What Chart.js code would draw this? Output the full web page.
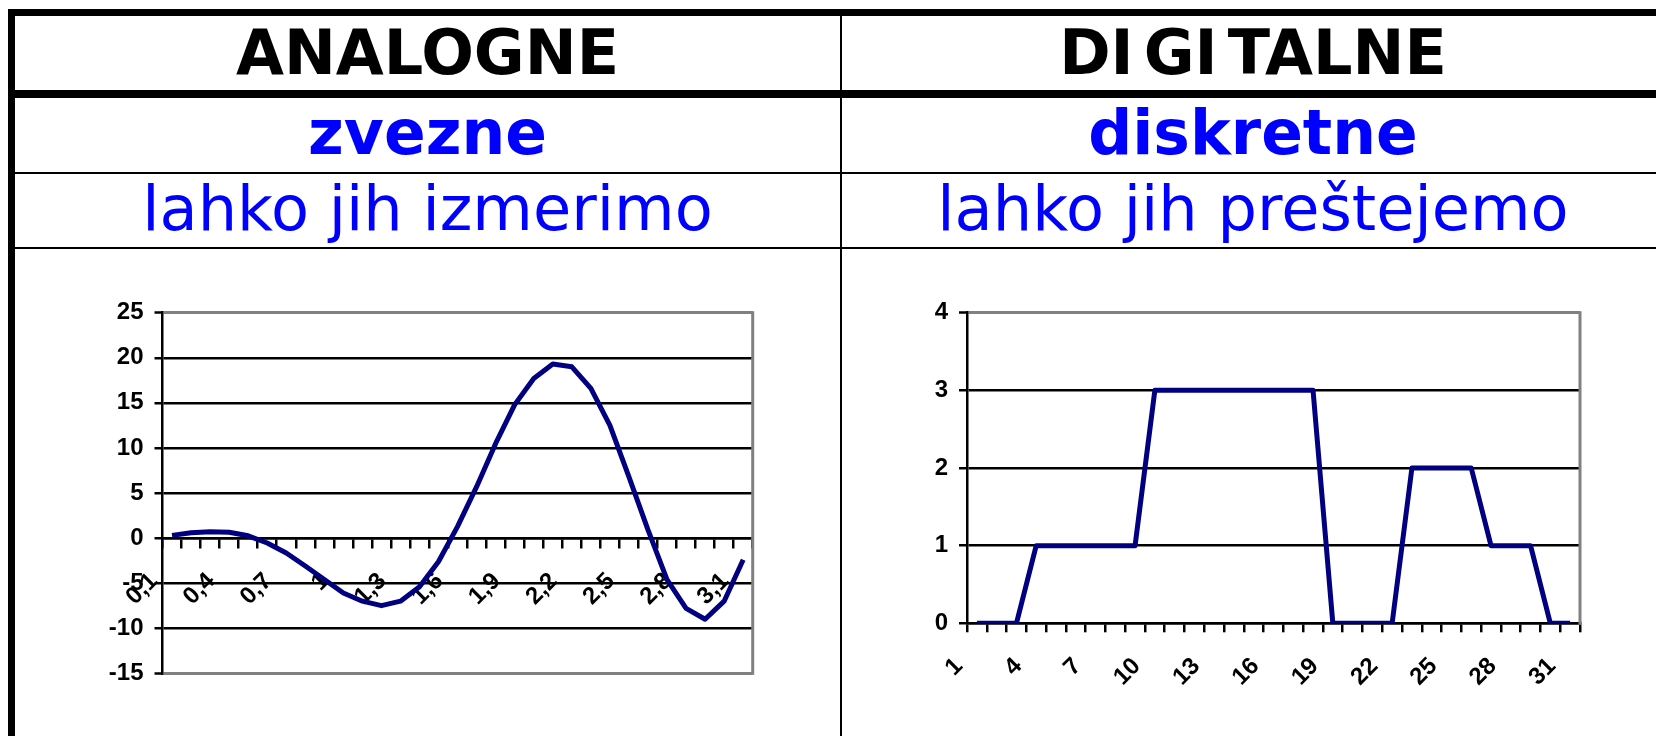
<!DOCTYPE html>
<html lang="sl">
<head>
<meta charset="utf-8">
<title>Analogne in digitalne količine</title>
<script src="https://cdn.jsdelivr.net/npm/chart.js@4.4.0/dist/chart.umd.min.js"></script>
<style>
  html, body { margin: 0; padding: 0; background: #fff; }
  body { width: 1656px; height: 736px; overflow: hidden; position: relative; font-family: "DejaVu Sans", sans-serif; }
  .crta { position: absolute; background: #000; }
  .celica { position: absolute; text-align: center; line-height: normal; white-space: nowrap; }
  .naslov { font-size: 62px; font-weight: bold; color: #000; }
  .vrsta { font-size: 61.5px; font-weight: bold; color: #00f; }
  .opis { font-size: 62.2px; color: #00f; }
  .i { letter-spacing: 10px; }
  canvas { position: absolute; }
</style>
</head>
<body>
<!-- crte tabele -->
<div class="crta" style="left:8px;top:9px;width:1700px;height:7px"></div>
<div class="crta" style="left:8px;top:9px;width:7px;height:800px"></div>
<div class="crta" style="left:8px;top:90px;width:1700px;height:8px"></div>
<div class="crta" style="left:8px;top:172px;width:1700px;height:2px"></div>
<div class="crta" style="left:8px;top:247px;width:1700px;height:2px"></div>
<div class="crta" style="left:840px;top:9px;width:2px;height:800px"></div>

<!-- besedila -->
<div class="celica naslov" style="left:15px;width:825px;top:15.8px">ANALOGNE</div>
<div class="celica naslov" style="left:842px;width:822px;top:15.8px">D<span class="i">I</span>G<span class="i">I</span>TALNE</div>
<div class="celica vrsta" style="left:15px;width:825px;top:97px">zvezne</div>
<div class="celica vrsta" style="left:842px;width:822px;top:97px">diskretne</div>
<div class="celica opis" style="left:15px;width:825px;top:172.3px">lahko jih izmerimo</div>
<div class="celica opis" style="left:842px;width:822px;top:172.3px">lahko jih preštejemo</div>

<canvas id="analogni" width="680" height="400" style="left:90px;top:290px"></canvas>
<canvas id="digitalni" width="720" height="420" style="left:900px;top:290px"></canvas>

<script>
// analogni signal
const analogneOznake = ['0,1', '0,2', '0,3', '0,4', '0,5', '0,6', '0,7', '0,8', '0,9', '1',
                        '1,1', '1,2', '1,3', '1,4', '1,5', '1,6', '1,7', '1,8', '1,9', '2',
                        '2,1', '2,2', '2,3', '2,4', '2,5', '2,6', '2,7', '2,8', '2,9', '3', '3,1'];
const analogneVrednosti = [0.3, 0.6, 0.7, 0.65, 0.25, -0.55, -1.65, -3.1, -4.6, -6.1,
                           -7.0, -7.5, -7.0, -5.4, -2.6, 1.3, 5.7, 10.5, 14.8, 17.7,
                           19.3, 19.0, 16.6, 12.5, 6.8, 0.9, -4.6, -7.8, -9.0, -7.0, -2.4];
const analogneY = [-15, 25, 5]; // min, max, korak

// digitalni signal
const digitalneOznake = ['1', '2', '3', '4', '5', '6', '7', '8', '9', '10',
                         '11', '12', '13', '14', '15', '16', '17', '18', '19', '20',
                         '21', '22', '23', '24', '25', '26', '27', '28', '29', '30', '31'];
const digitalneVrednosti = [0, 0, 0, 1, 1, 1, 1, 1, 1, 3,
                            3, 3, 3, 3, 3, 3, 3, 3, 0, 0,
                            0, 0, 2, 2, 2, 2, 1, 1, 1, 0, 0];
const digitalneY = [0, 4, 1];

const CRNA = '#000000', SIVA = '#808080', MODRA = '#000080';
const pisava = { family: '"Liberation Sans", Arial, sans-serif', size: 24, weight: 'bold' };

// siv rob na desni strani risalne povrsine
const desniRob = {
  id: 'desniRob',
  beforeDatasetsDraw(chart) {
    const { ctx, chartArea } = chart;
    ctx.save();
    ctx.strokeStyle = SIVA;
    ctx.lineWidth = 3;
    ctx.beginPath();
    ctx.moveTo(chartArea.right, chartArea.top - 1.5);
    ctx.lineTo(chartArea.right, chartArea.bottom + 1.5);
    ctx.stroke();
    ctx.restore();
  }
};

// brez samodejnih odmikov osi, da je risalna povrsina tam kjer jo hocemo
function brezOdmikov(s) {
  s.paddingLeft = 0;
  s.paddingRight = 0;
  s.paddingTop = 0;
  s.paddingBottom = 0;
}

function narisi(id, oznake, vrednosti, meje, nastavitve) {
  const [yMin, yMax, korak] = meje;
  const sive = nastavitve.sive;
  return new Chart(document.getElementById(id), {
    type: 'line',
    data: {
      labels: oznake,
      datasets: [{
        data: vrednosti,
        borderColor: MODRA,
        borderWidth: 5,
        borderJoinStyle: 'round',
        pointRadius: 0,
        tension: 0,
        fill: false
      }]
    },
    options: {
      responsive: false,
      animation: false,
      layout: { padding: nastavitve.padding },
      plugins: { legend: { display: false }, tooltip: { enabled: false } },
      scales: {
        x: {
          type: 'category',
          position: nastavitve.xPolozaj,
          offset: true,
          grid: { offset: true, drawOnChartArea: false, tickLength: 9, color: CRNA, lineWidth: 2.5 },
          border: { color: CRNA, width: 2.5 },
          ticks: {
            autoSkip: false,
            minRotation: 45,
            maxRotation: 45,
            padding: 20,
            labelOffset: -18,
            color: CRNA,
            font: pisava,
            callback: (v, i) => (i % 3 === 0 ? oznake[i] : '')
          },
          afterFit: (s) => { s.height = nastavitve.xVisina; brezOdmikov(s); }
        },
        y: {
          min: yMin,
          max: yMax,
          ticks: { stepSize: korak, padding: 11, color: CRNA, font: pisava },
          grid: {
            color: (c) => (sive.includes(c.tick.value) ? SIVA : CRNA),
            lineWidth: (c) => (sive.includes(c.tick.value) ? 3 : 2.5),
            tickLength: 8,
            tickColor: CRNA,
            tickWidth: 2.5
          },
          border: { color: CRNA, width: 2.5 },
          afterFit: (s) => { s.width = nastavitve.ySirina; brezOdmikov(s); }
        }
      }
    },
    plugins: [desniRob]
  });
}

narisi('analogni', analogneOznake, analogneVrednosti, analogneY, {
  xPolozaj: { y: 0 },
  xVisina: 0,
  ySirina: 72.5,
  sive: [-15, 25],
  padding: { left: 0, right: 17.3, top: 22.7, bottom: 16.7 }
});

narisi('digitalni', digitalneOznake, digitalneVrednosti, digitalneY, {
  xPolozaj: 'bottom',
  xVisina: 86.7,
  ySirina: 67,
  sive: [4],
  padding: { left: 0, right: 40, top: 22.7, bottom: 0 }
});
</script>
</body>
</html>
